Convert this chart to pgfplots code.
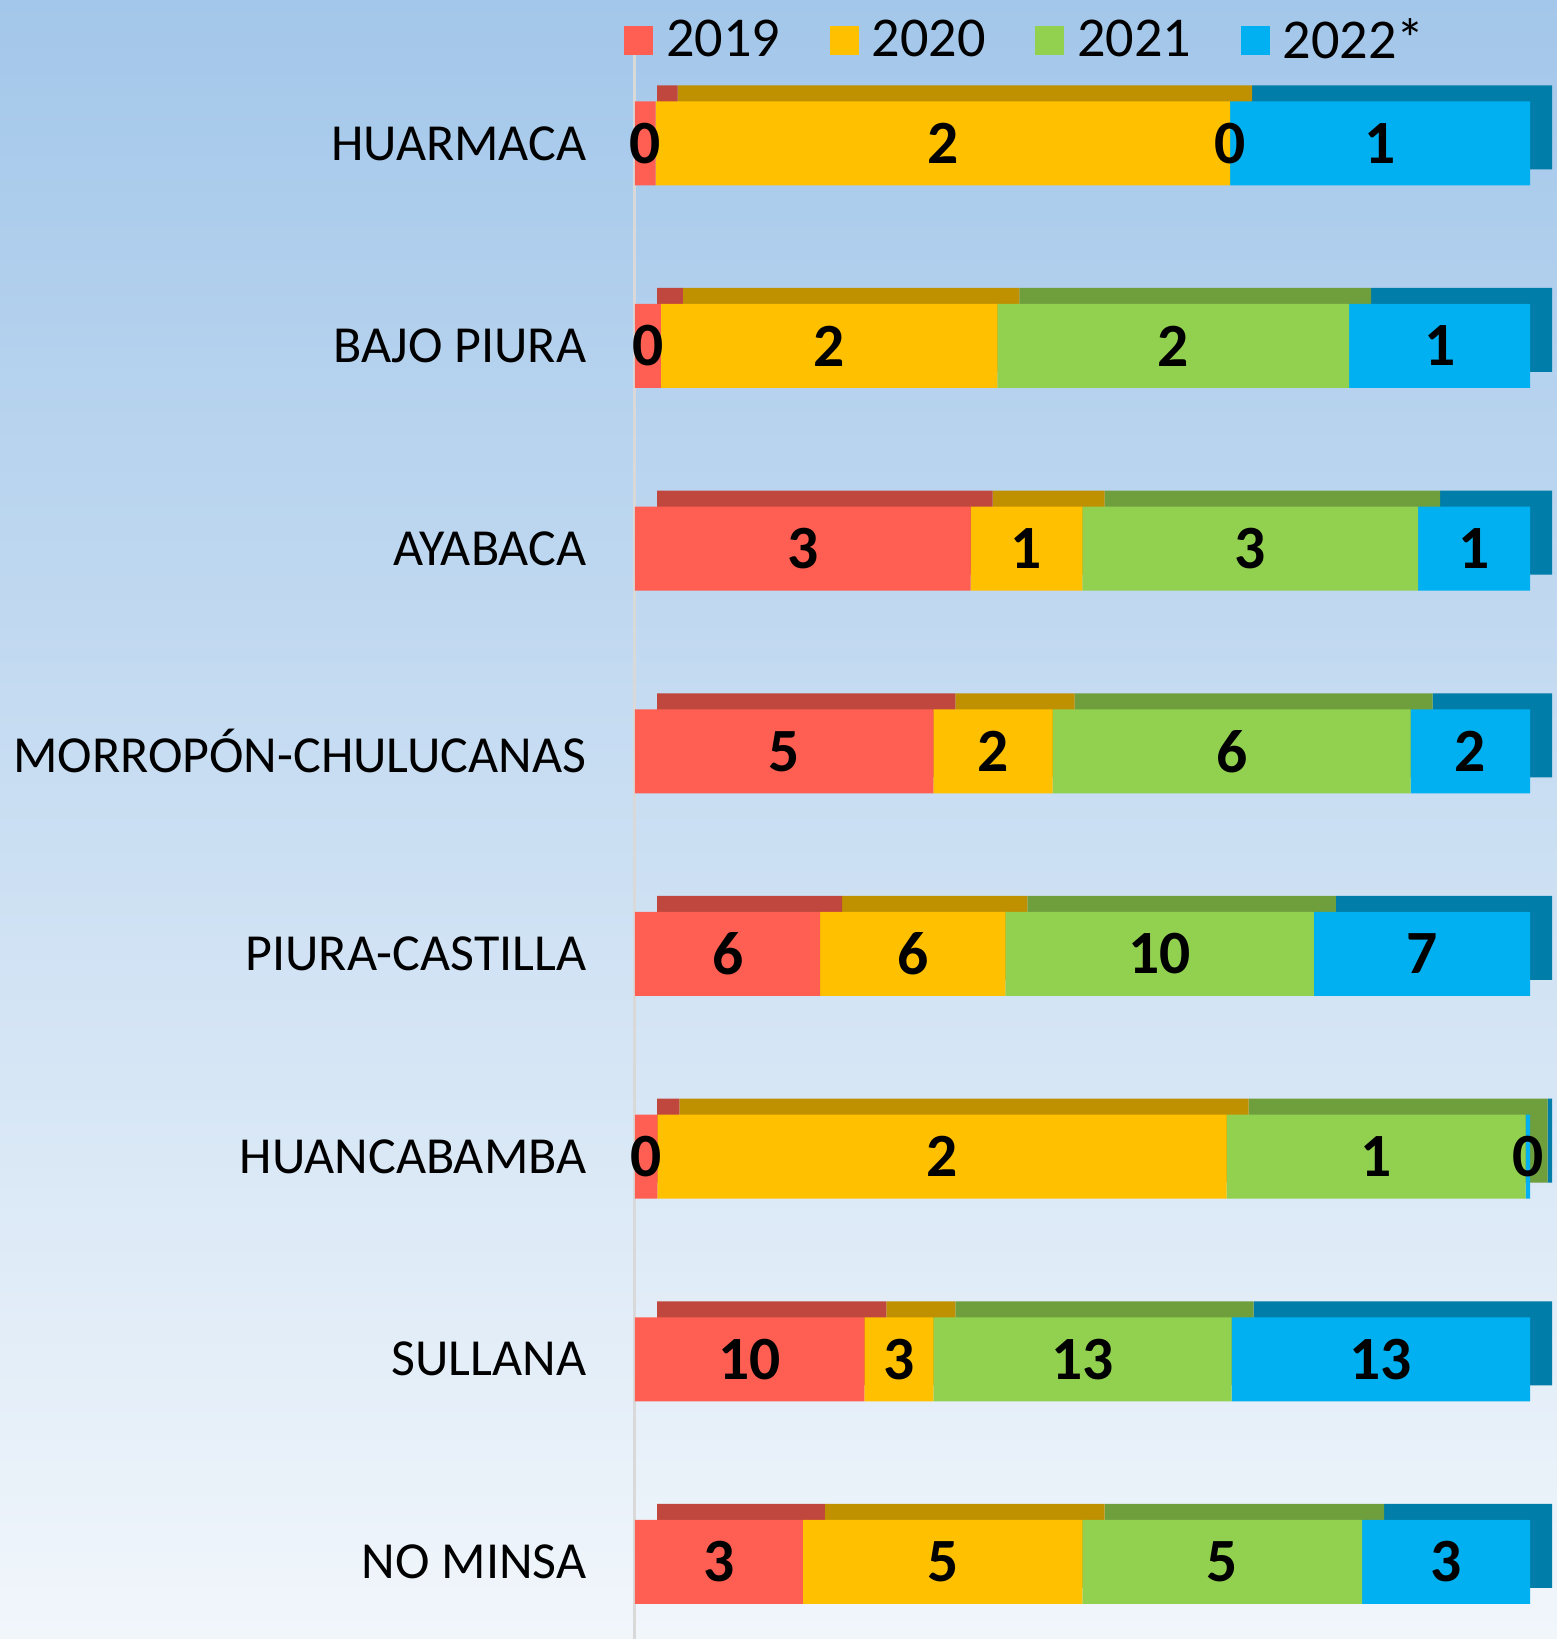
\documentclass[border=0pt]{standalone}
\usepackage{pgfplots}
\usepackage{pgfplotstable}
\pgfplotsset{compat=1.18}
\usepackage{fontspec}
\setmainfont{Carlito}
\definecolor{bgT}{HTML}{A3C7EA}
\definecolor{bgB}{HTML}{F1F6FB}
\definecolor{cR}{HTML}{FF5F52}
\definecolor{cO}{HTML}{FFC000}
\definecolor{cG}{HTML}{92D050}
\definecolor{cB}{HTML}{00B0F0}
\definecolor{dR}{HTML}{C0473D}
\definecolor{dO}{HTML}{BF9000}
\definecolor{dG}{HTML}{6F9E3C}
\definecolor{dB}{HTML}{007DA8}

% shares of each bar (percent of the bar), labels are the counts
\pgfplotstableread{
y r o g b
7 2.3 64.2 0 33.5
6 2.9 37.6 39.3 20.2
5 37.5 12.5 37.5 12.5
4 33.33 13.33 40 13.34
3 20.69 20.69 34.48 24.14
2 2.5 63.6 33.4 0.5
1 25.64 7.69 33.33 33.34
0 18.75 31.25 31.25 18.75
}\bars

\pgfplotstableread{
x y l
1.15 7 0
34.4 7 2
66.5 7 0
83.25 7 1
1.45 6 0
21.7 6 2
60.15 6 2
89.9 6 1
18.75 5 3
43.75 5 1
68.75 5 3
93.75 5 1
16.67 4 5
40.0 4 2
66.67 4 6
93.33 4 2
10.35 3 6
31.03 3 6
58.62 3 10
87.93 3 7
1.25 2 0
34.3 2 2
82.8 2 1
99.75 2 0
12.82 1 10
29.49 1 3
50.0 1 13
83.33 1 13
9.375 0 3
34.375 0 5
65.625 0 5
90.625 0 3
}\labs

\pgfplotsset{
  base/.style={scale only axis, width=89.5mm, height=160.1mm,
    xmin=0, xmax=100, ymin=-0.4, ymax=7.5, anchor=south west,
    clip=false},
  sq/.style={legend image code/.code={\fill[##1] (0mm,-1.45mm) rectangle (2.9mm,1.45mm);}},
}

\begin{document}
\begin{tikzpicture}[x=1mm,y=1mm]
\shade[top color=bgT, bottom color=bgB] (0,0) rectangle (155.7,163.9);
\useasboundingbox (0,0) rectangle (155.7,163.9);

% back faces (3D look)
\begin{axis}[base, at={(65.7mm,1.2mm)}, hide axis, xbar stacked, bar width=8.4mm]
\addplot[fill=dR, draw=none] table[x=r,y=y]{\bars};
\addplot[fill=dO, draw=none] table[x=o,y=y]{\bars};
\addplot[fill=dG, draw=none] table[x=g,y=y]{\bars};
\addplot[fill=dB, draw=none] table[x=b,y=y]{\bars};
\end{axis}

% front faces
\begin{axis}[base, at={(63.5mm,-0.4mm)}, xbar stacked, bar width=8.4mm,
  axis x line=none, axis y line*=left,
  y axis line style={draw=black!15, line width=0.3mm},
  xtick=\empty, ytick={0,...,7}, major tick length=0pt,
  yticklabels={NO MINSA,SULLANA,HUANCABAMBA,PIURA-CASTILLA,MORROPÓN-CHULUCANAS,AYABACA,BAJO PIURA,HUARMACA},
  yticklabel style={font=\fontsize{14.8}{18}\selectfont, text=black, anchor=east, inner sep=0pt, xshift=-4.8mm},
  legend columns=4,
  legend style={at={(0,1)}, anchor=west, xshift=-2.2mm, yshift=0.1mm, draw=none, fill=none,
    font=\fontsize{16}{19}\selectfont, nodes={inner xsep=1.3mm, inner ysep=0.8mm, text=black},
    /tikz/every even column/.append style={column sep=3.65mm}},
]
\addplot[fill=cR, draw=none, sq] table[x=r,y=y]{\bars};
\addplot[fill=cO, draw=none, sq] table[x=o,y=y]{\bars};
\addplot[fill=cG, draw=none, sq] table[x=g,y=y]{\bars};
\addplot[fill=cB, draw=none, sq] table[x=b,y=y]{\bars};
\legend{2019,2020,2021,2022*}
\end{axis}

% data labels
\begin{axis}[base, at={(63.5mm,-0.4mm)}, hide axis]
\addplot[draw=none, mark=none, nodes near coords, point meta=explicit symbolic,
  every node near coord/.append style={anchor=center, text=black,
    font=\fontsize{17.5}{20}\bfseries\selectfont}]
  table[x=x,y=y,meta=l]{\labs};
\end{axis}
\end{tikzpicture}
\end{document}
